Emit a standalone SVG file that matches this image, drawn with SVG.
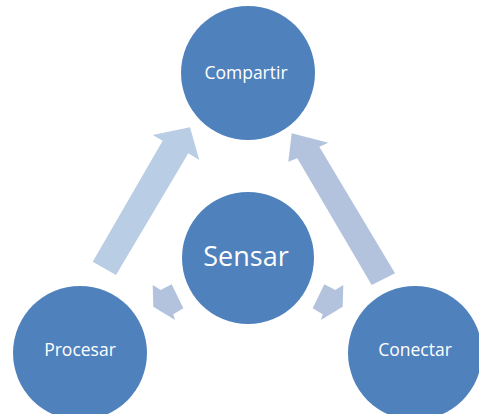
<svg xmlns="http://www.w3.org/2000/svg" width="479" height="414" viewBox="0 0 479 414">
<style>
.node{fill:#4F81BD}
.lbl{fill:#FFFFFF;font-family:"Open Sans","Noto Sans",sans-serif;text-anchor:middle}
.a1{fill:#B9CDE5}
.a2{fill:#B3C3DE}
</style>
<rect width="479" height="414" fill="#FFFFFF"/>
<g id="connectors">
<polygon class="a1" points="92.7,261.7 162.7,140.7 152.7,135 190,127.3 199.3,160 188.3,153.3 116,275"/>
<polygon class="a2" points="395,273.3 319.3,146.7 328.3,142.7 291.7,133.3 288.3,161.7 297.3,158.3 371.7,285"/>
<polygon class="a2" points="171.7,284.3 160.7,290 152.7,285 153.3,306.7 175,320 173.3,314.3 183.3,308.3"/>
<polygon class="a2" points="324.3,284.3 335.3,290 343.3,285 342.7,306.7 321,320 322.7,314.3 312.7,308.3"/>
</g>
<g id="compartir">
<circle class="node" cx="248" cy="73" r="67"/>
<text class="lbl" x="246" y="79" font-size="17.5">Compartir</text>
</g>
<g id="sensar">
<circle class="node" cx="248" cy="258" r="66"/>
<text class="lbl" x="246" y="266" font-size="27">Sensar</text>
</g>
<g id="procesar">
<circle class="node" cx="80" cy="353" r="67"/>
<text class="lbl" x="80" y="356" font-size="17.5">Procesar</text>
</g>
<g id="conectar">
<circle class="node" cx="415" cy="353" r="67"/>
<text class="lbl" x="415" y="356" font-size="17.5">Conectar</text>
</g>
</svg>
